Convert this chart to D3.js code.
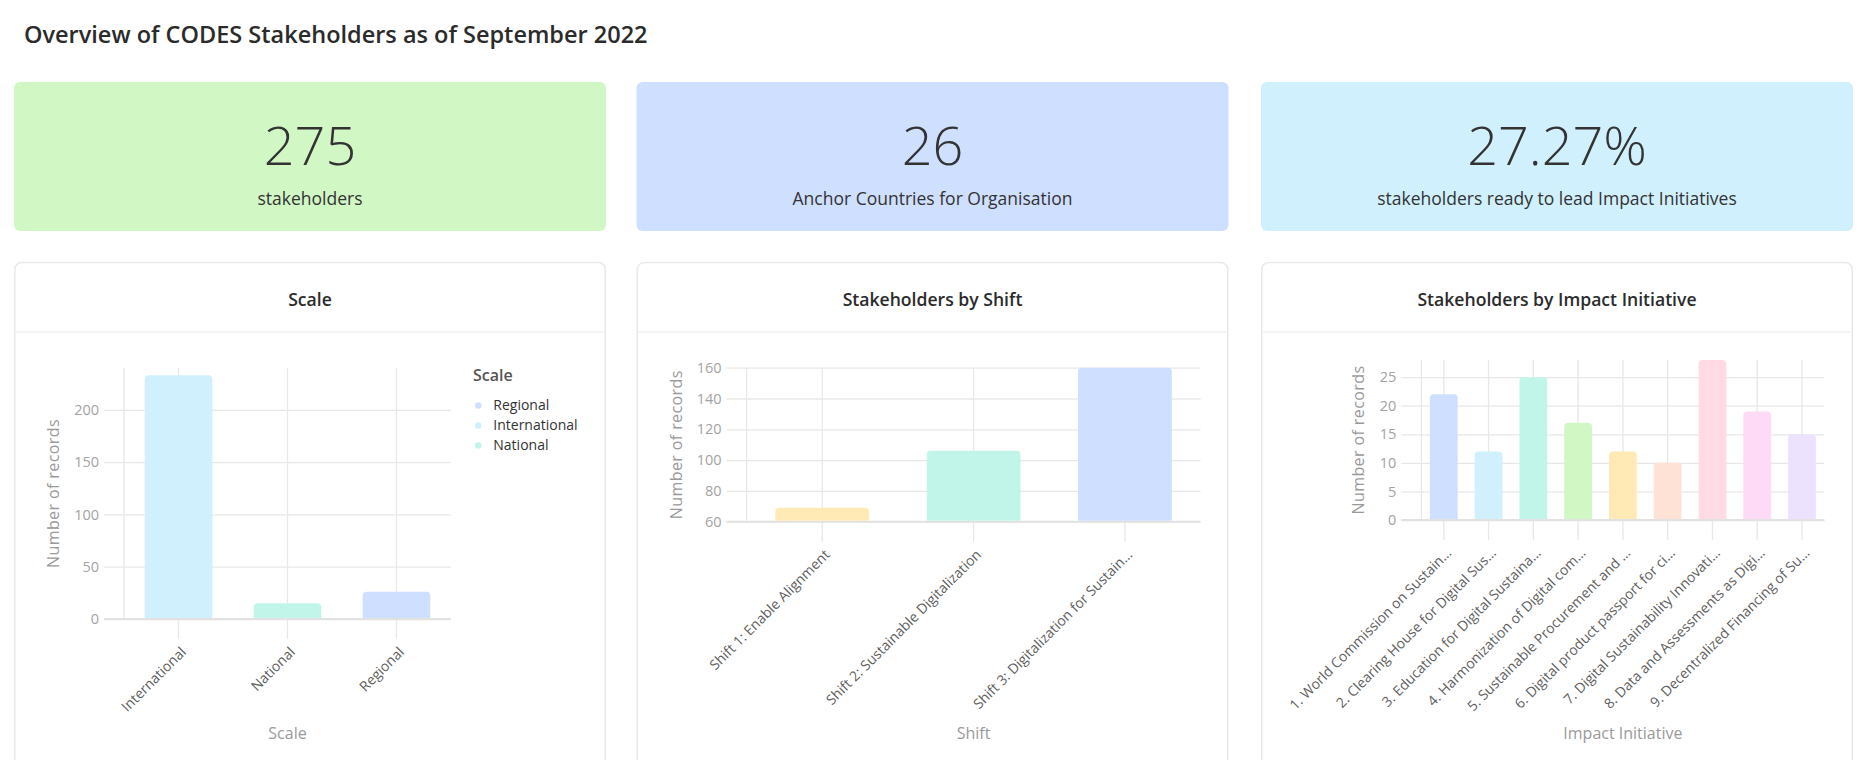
<!DOCTYPE html>
<html><head><meta charset="utf-8">
<script src="https://cdn.jsdelivr.net/npm/d3@7"></script>
<style>
html,body{margin:0;padding:0;background:#fff;}
svg{display:block;font-family:"Open Sans","Noto Sans",sans-serif;}
</style></head><body>
<svg id="c" width="1872" height="760"></svg>
<script>
// ---- data ----
const pageTitle = "Overview of CODES Stakeholders as of September 2022";
const kpiValues = ["275", "26", "27.27%"];
const kpiLabels = ["stakeholders", "Anchor Countries for Organisation", "stakeholders ready to lead Impact Initiatives"];
const kpiColors = ["#d1f7c4", "#cfdfff", "#d0f0fd"];
const chartTitles = ["Scale", "Stakeholders by Shift", "Stakeholders by Impact Initiative"];

const scaleCategories = ["International", "National", "Regional"];
const scaleValues = [233, 15, 26];
const scaleColors = ["#d0f0fd", "#c2f5e9", "#cfdfff"];
const scaleTicks = [0, 50, 100, 150, 200];
const scaleLegend = ["Regional", "International", "National"];
const scaleLegendColors = ["#cfdfff", "#d0f0fd", "#c2f5e9"];

const shiftCategories = ["Shift 1: Enable Alignment", "Shift 2: Sustainable Digitalization", "Shift 3: Digitalization for Sustain…"];
const shiftValues = [69, 106, 160];
const shiftColors = ["#ffeab6", "#c2f5e9", "#cfdfff"];
const shiftTicks = [60, 80, 100, 120, 140, 160];

const impactCategories = [
  "1. World Commission on Sustain…",
  "2. Clearing House for Digital Sus…",
  "3. Education for Digital Sustaina…",
  "4. Harmonization of Digital com…",
  "5. Sustainable Procurement and …",
  "6. Digital product passport for ci…",
  "7. Digital Sustainability Innovati…",
  "8. Data and Assessments as Digi…",
  "9. Decentralized Financing of Su…"
];
const impactValues = [22, 12, 25, 17, 12, 10, 28, 19, 15];
const impactColors = ["#cfdfff", "#d0f0fd", "#c2f5e9", "#d1f7c4", "#ffeab6", "#fee2d5", "#ffdce5", "#ffdaf6", "#ede2fe"];
const impactTicks = [0, 5, 10, 15, 20, 25];

// ---- layout ----
const svg = d3.select("#c");
const cardX = [14, 636.5, 1261];
const cardW = 592;
const GRID = "#e8e8e8";

svg.append("text").attr("x", 24).attr("y", 43)
  .attr("font-size", 23.5).attr("font-weight", 600).attr("fill", "#2b2b2b")
  .text(pageTitle);

// KPI cards
kpiValues.forEach((v, i) => {
  const g = svg.append("g").attr("transform", `translate(${cardX[i]},82)`);
  g.append("rect").attr("width", cardW).attr("height", 149).attr("rx", 6).attr("fill", kpiColors[i]);
  g.append("text").attr("x", cardW / 2).attr("y", 165 - 82).attr("text-anchor", "middle")
    .attr("font-size", 54).attr("font-weight", 300).attr("fill", "#333").text(v);
  g.append("text").attr("x", cardW / 2).attr("y", 205 - 82).attr("text-anchor", "middle")
    .attr("font-size", 17.5).attr("fill", "#333").text(kpiLabels[i]);
});

// Chart cards
chartTitles.forEach((t, i) => {
  const g = svg.append("g").attr("transform", `translate(${cardX[i] + 0.75},262.5)`);
  g.append("rect").attr("width", cardW - 1.5).attr("height", 560).attr("rx", 7)
    .attr("fill", "#fff").attr("stroke", "#e9e9e9").attr("stroke-width", 1.5);
  g.append("line").attr("x1", 1).attr("x2", cardW - 2.5).attr("y1", 69.5).attr("y2", 69.5)
    .attr("stroke", "#f2f2f2").attr("stroke-width", 1.5);
  g.append("text").attr("x", (cardW - 1.5) / 2).attr("y", 43.5).attr("text-anchor", "middle")
    .attr("font-size", 17.6).attr("font-weight", 600).attr("fill", "#2b2b2b").text(t);
});

function topRoundedBar(x, y, w, h, r) {
  r = Math.min(r, h, w / 2);
  return `M${x},${y + h}V${y + r}Q${x},${y} ${x + r},${y}H${x + w - r}Q${x + w},${y} ${x + w},${y + r}V${y + h}Z`;
}

function barChart(cfg) {
  const { cats, vals, colors, domain, ticks, plot, xTitle, yTitleX } = cfg;
  const g = svg.append("g");
  const W = plot.x1 - plot.x0, H = plot.y1 - plot.y0;
  const x = d3.scaleBand().domain(cats).range([plot.x0, plot.x1]).paddingInner(0.38).paddingOuter(0.19);
  const y = d3.scaleLinear().domain(domain).range([plot.y1, plot.y0]);

  // y axis + horizontal grid
  const ya = g.append("g").attr("transform", `translate(${plot.x0},0)`)
    .call(d3.axisLeft(y).tickValues(ticks).tickSize(20).tickPadding(5));
  ya.attr("font-family", null).attr("font-size", null);
  ya.select(".domain").remove();
  ya.selectAll(".tick line").attr("x1", -20).attr("x2", W).attr("stroke", GRID).attr("stroke-width", 1.3);
  ya.selectAll(".tick text").attr("font-size", 14.5).attr("fill", "#a3a3a3");

  // x axis + vertical grid
  const xa = g.append("g").attr("transform", `translate(0,${plot.y1})`)
    .call(d3.axisBottom(x).tickSize(20).tickPadding(0));
  xa.attr("font-family", null).attr("font-size", null);
  xa.select(".domain").remove();
  xa.selectAll(".tick line").attr("y1", -H).attr("y2", 20).attr("stroke", GRID).attr("stroke-width", 1.3);
  xa.selectAll(".tick text")
    .attr("y", null).attr("dy", null)
    .attr("text-anchor", "end")
    .attr("dominant-baseline", "central")
    .attr("transform", "translate(4.5,30) rotate(-45)")
    .attr("font-size", 14).attr("fill", "#5f5f5f");

  // left edge line + baseline
  g.append("line").attr("x1", plot.x0).attr("x2", plot.x0).attr("y1", plot.y0).attr("y2", plot.y1)
    .attr("stroke", GRID).attr("stroke-width", 1.3);
  g.append("line").attr("x1", plot.x0 - 20).attr("x2", plot.x1).attr("y1", plot.y1).attr("y2", plot.y1)
    .attr("stroke", "#e2e2e2").attr("stroke-width", 2);

  // bars
  g.append("g").selectAll("path").data(cats).join("path")
    .attr("d", (c, i) => topRoundedBar(x(c), y(vals[i]), x.bandwidth(), plot.y1 - 1 - y(vals[i]), 4))
    .attr("fill", (c, i) => colors[i]);

  // titles
  g.append("text").attr("transform", `translate(${yTitleX},${(plot.y0 + plot.y1) / 2}) rotate(-90)`)
    .attr("text-anchor", "middle").attr("dominant-baseline", "central")
    .attr("font-size", 16).attr("letter-spacing", 0.4).attr("fill", "#9a9a9a").text("Number of records");
  g.append("text").attr("x", (plot.x0 + plot.x1) / 2).attr("y", 739).attr("text-anchor", "middle")
    .attr("font-size", 16).attr("fill", "#9a9a9a").text(xTitle);
  return g;
}

barChart({ cats: scaleCategories, vals: scaleValues, colors: scaleColors, domain: [0, 240], ticks: scaleTicks,
  plot: { x0: 124, x1: 451, y0: 368, y1: 619 }, xTitle: "Scale", yTitleX: 53 });
barChart({ cats: shiftCategories, vals: shiftValues, colors: shiftColors, domain: [60, 160], ticks: shiftTicks,
  plot: { x0: 746.6, x1: 1200.6, y0: 367.7, y1: 521.7 }, xTitle: "Shift", yTitleX: 675.5 });
barChart({ cats: impactCategories, vals: impactValues, colors: impactColors, domain: [0, 28], ticks: impactTicks,
  plot: { x0: 1421.4, x1: 1824.4, y0: 360, y1: 520 }, xTitle: "Impact Initiative", yTitleX: 1358 });

// legend for Scale chart
const lg = svg.append("g").attr("transform", "translate(473,0)");
lg.append("text").attr("x", 0).attr("y", 381).attr("font-size", 16).attr("font-weight", 600)
  .attr("fill", "#555").text("Scale");
const items = lg.selectAll("g.item").data(scaleLegend).join("g").attr("class", "item")
  .attr("transform", (d, i) => `translate(0,${410 + i * 20})`);
items.append("circle").attr("cx", 5.3).attr("cy", -4.5).attr("r", 3.2).attr("fill", (d, i) => scaleLegendColors[i]);
items.append("text").attr("x", 20.3).attr("y", 0).attr("font-size", 14).attr("fill", "#333").text(d => d);
</script>
</body></html>
